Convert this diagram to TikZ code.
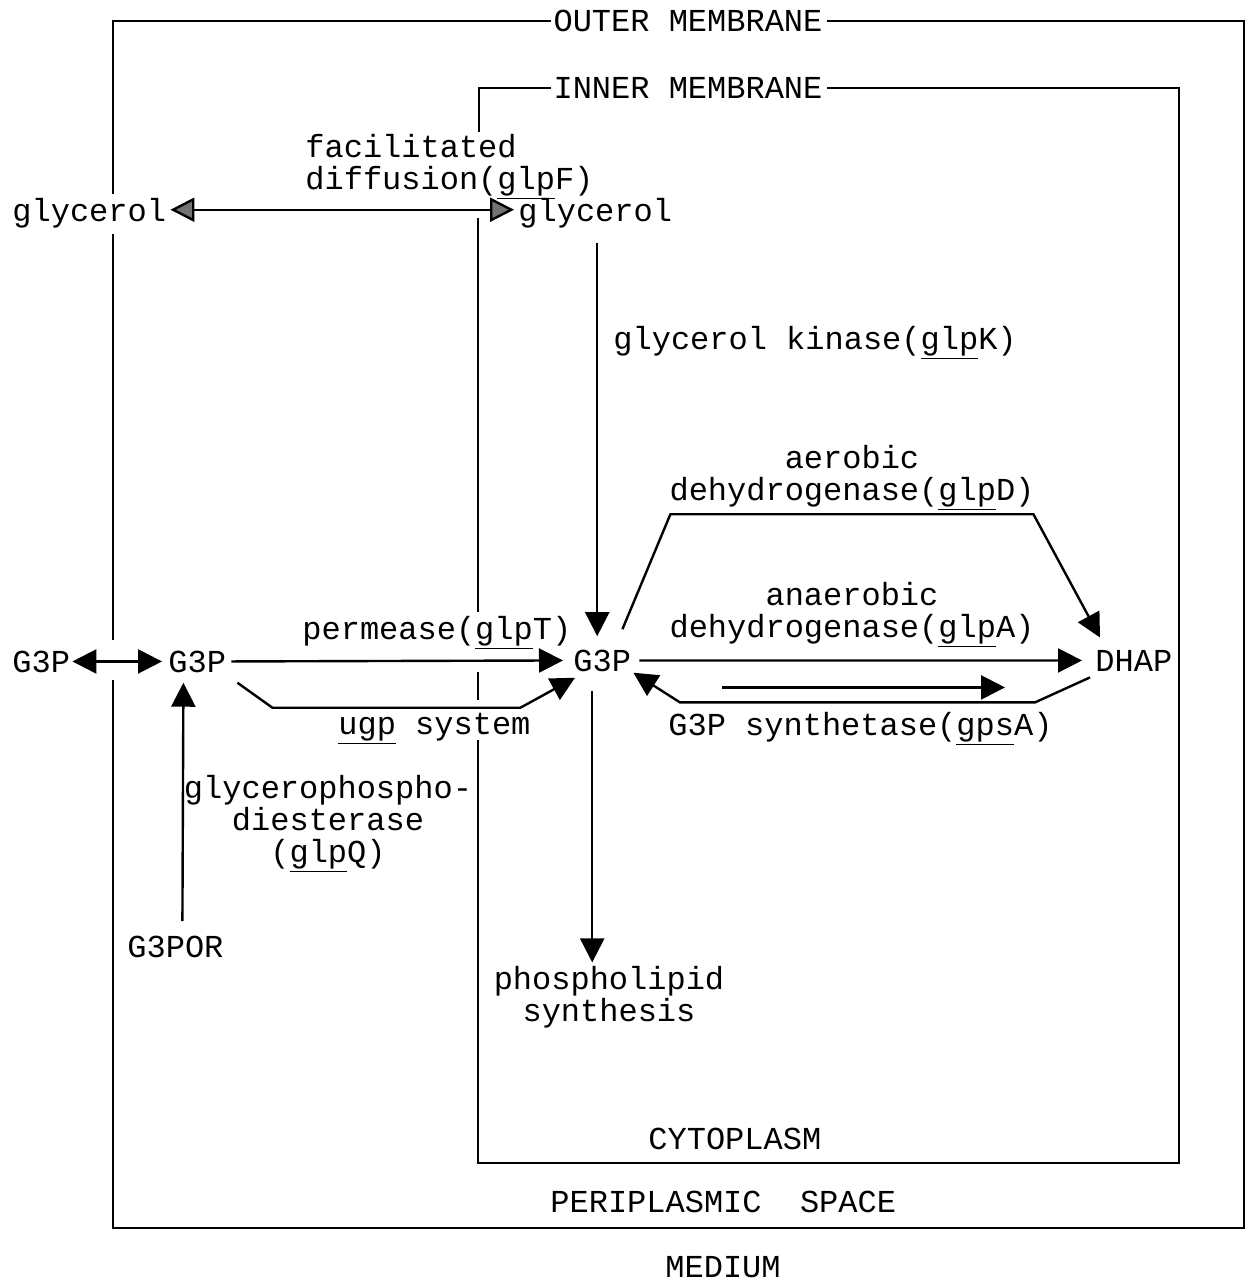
\documentclass[tikz,border=0pt]{standalone}
\usepackage{fontspec}
\setmainfont{Liberation Mono}
\usetikzlibrary{arrows.meta, positioning, calc}

\tikzset{
  lbl/.style={inner sep=0pt, font=\fontsize{16}{16}\selectfont},
  memb/.style={line width=1.2pt},
  flow/.style={line width=1.2pt, -{Triangle[length=12pt,width=12pt]}},
  flowb/.style={line width=1.2pt, {Triangle[length=12pt,width=12pt]}-{Triangle[length=12pt,width=12pt]}},
  flowg/.style={line width=1.2pt, {Triangle[length=12pt,width=12pt,fill=black!55]}-{Triangle[length=12pt,width=12pt,fill=black!55]}},
}
\newcommand{\gene}[1]{\underline{#1}}

\begin{document}
\begin{tikzpicture}[x=0.5pt,y=-0.5pt]
  \useasboundingbox (0,0) rectangle (1249,1280);

  % compartments
  \node[lbl] (outer) at (688,21) {OUTER MEMBRANE};
  \node[lbl] (inner) at (688,88) {INNER MEMBRANE};
  \node[lbl, anchor=base west] (cyto) at (648,1149) {CYTOPLASM};
  \node[lbl, anchor=base west] (peri) at (550,1212) {PERIPLASMIC~~SPACE};
  \node[lbl, anchor=base west] (medium) at (665,1277) {MEDIUM};

  \draw[memb] ([xshift=-1pt]outer.west) -| (113,194);
  \draw[memb] (113,234) -- (113,640);
  \draw[memb] (113,680) -- (113,1228) -- (1244,1228) -- (1244,21) -- ([xshift=2pt]outer.east);
  \draw[memb] ([xshift=-1pt]inner.west) -| (479,132);
  \draw[memb] (478,218) -- (478,612);
  \draw[memb] (478,672) -- (478,700);
  \draw[memb] (478,740) -- (478,1163) -- (1179,1163) -- (1179,88) -- ([xshift=2pt]inner.east);

  % metabolites
  \node[lbl, anchor=base west] (glyout) at (12,221) {glycerol};
  \node[lbl, anchor=base west] (glyin) at (518,221) {glycerol};
  \node[lbl, anchor=base west] (g3pout) at (12,672) {G3P};
  \node[lbl, anchor=base west] (g3pperi) at (168,672) {G3P};
  \node[lbl, anchor=base west] (g3pcyt) at (573,671) {G3P};
  \node[lbl, anchor=base west] (dhap) at (1095,671) {DHAP};
  \node[lbl, anchor=base west] (g3por) at (127,957) {G3POR};
  \node[lbl, anchor=base, align=center] (lipid) at (609,1021) {phospholipid\\synthesis};

  % enzymes
  \node[lbl, anchor=base west, align=left] (glpF) at (305,189) {facilitated\\diffusion(\gene{glp}F)};
  \node[lbl, anchor=base west] (glpK) at (613,349) {glycerol kinase(\gene{glp}K)};
  \node[lbl, anchor=base west] (glpT) at (302,639) {permease(\gene{glp}T)};
  \node[lbl, anchor=base west] (ugp) at (338,734) {\gene{ugp} system};
  \node[lbl, anchor=base, align=center] (glpQ) at (328,862) {glycerophospho-\\diesterase\\(\gene{glp}Q)};
  \node[lbl, anchor=base, align=center] (glpD) at (852,500) {aerobic\\dehydrogenase(\gene{glp}D)};
  \node[lbl, anchor=base, align=center] (glpA) at (852,637) {anaerobic\\dehydrogenase(\gene{glp}A)};
  \node[lbl, anchor=base west] (gpsA) at (668,735) {G3P synthetase(\gene{gps}A)};

  % reactions
  \draw[flowg] ($(glyout.east)+(4,-3)$) -- ($(glyin.west)+(-4,-3)$);
  \draw[flow] ($(glyin.south)+(2,15)$) -- ($(glyin.south |- g3pcyt.north)+(2,-13)$);
  \draw[flowb] ($(g3pout.east)+(2,0)$) -- ($(g3pperi.west)+(-6,0)$);
  \draw[flow] ($(g3pperi.east)+(5,0)$) -- ($(g3pcyt.west)+(-10,0)$);
  \draw[flow] ($(g3pperi.south east)+(11,10)$) -- ++(35,25) -- ++(248,0) -- ($(g3pcyt.south west)+(2,6)$);
  \draw[flow] ($(g3por.north)+(7,-14)$) -- ($(g3por.north |- g3pperi.south)+(8,10)$);
  \draw[flow] ($(g3pcyt.south)+(-10,19)$) -- ($(g3pcyt.south |- lipid.north)+(-10,-3)$);
  \draw[flow] ($(g3pcyt.north east)+(-9,-20)$) -- ++(48,-115) -- ++(363,0) -- ($(dhap.north west)+(5,-12)$);
  \draw[flow] ($(g3pcyt.east)+(8,0)$) -- ($(dhap.west)+(-13,0)$);
  \draw[flow] ($(dhap.south west)+(-5,6)$) -- ++(-55,25) -- ++(-355,0) -- ($(g3pcyt.south east)+(2,1)$);
  \draw[flow] ($(gpsA.north west)+(54,-24)$) -- ++(283,0);
\end{tikzpicture}
\end{document}
